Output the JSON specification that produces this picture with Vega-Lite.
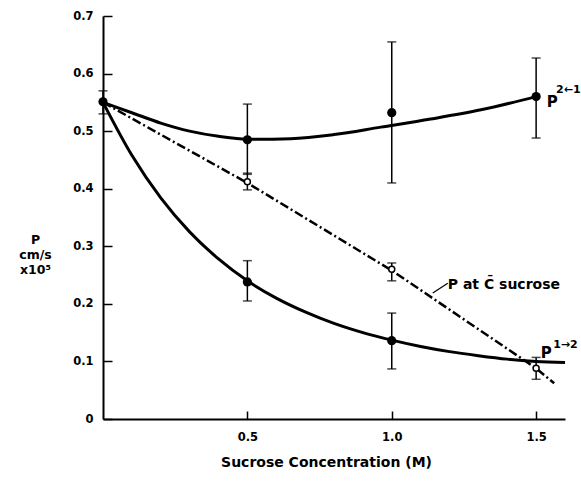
{
  "$schema": "https://vega.github.io/schema/vega-lite/v6.json",
  "width": 462,
  "height": 403,
  "autosize": "none",
  "padding": {"left": 103, "top": 16, "right": 16, "bottom": 50},
  "background": "white",
  "config": {
    "view": {"stroke": null},
    "font": "DejaVu Sans",
    "axis": {
      "grid": false,
      "domainColor": "black",
      "domainWidth": 2,
      "tickColor": "black",
      "tickWidth": 1.5,
      "labelColor": "black",
      "labelFont": "DejaVu Sans",
      "labelFontWeight": "bold",
      "labelFontSize": 11.5,
      "titleColor": "black",
      "titleFont": "DejaVu Sans",
      "titleFontWeight": "bold"
    }
  },
  "datasets": {
    "upper": [
      {"x": 0, "p": 0.55}, {"x": 0.1, "p": 0.532}, {"x": 0.2, "p": 0.514},
      {"x": 0.3, "p": 0.5}, {"x": 0.4, "p": 0.491}, {"x": 0.5, "p": 0.486},
      {"x": 0.65, "p": 0.487}, {"x": 0.8, "p": 0.494}, {"x": 0.962, "p": 0.507},
      {"x": 1.135, "p": 0.521}, {"x": 1.309, "p": 0.537}, {"x": 1.5, "p": 0.56}
    ],
    "lower": [
      {"x": 0, "p": 0.55}, {"x": 0.1, "p": 0.458}, {"x": 0.2, "p": 0.384},
      {"x": 0.3, "p": 0.325}, {"x": 0.4, "p": 0.278}, {"x": 0.5, "p": 0.24},
      {"x": 0.6, "p": 0.21}, {"x": 0.7, "p": 0.186}, {"x": 0.8, "p": 0.166},
      {"x": 0.9, "p": 0.15}, {"x": 1.0, "p": 0.137}, {"x": 1.1, "p": 0.126},
      {"x": 1.2, "p": 0.117}, {"x": 1.3, "p": 0.11}, {"x": 1.4, "p": 0.104},
      {"x": 1.5, "p": 0.1}, {"x": 1.6, "p": 0.098}
    ],
    "dashed": [
      {"x": 0, "p": 0.55}, {"x": 0.5, "p": 0.41}, {"x": 1.0, "p": 0.258},
      {"x": 1.5, "p": 0.088}, {"x": 1.5625, "p": 0.062}
    ],
    "points": [
      {"x": 0, "p": 0.551, "lo": 0.53, "hi": 0.57, "kind": "filled"},
      {"x": 0.5, "p": 0.485, "lo": 0.425, "hi": 0.547, "kind": "filled"},
      {"x": 1.0, "p": 0.532, "lo": 0.41, "hi": 0.655, "kind": "filled"},
      {"x": 1.5, "p": 0.56, "lo": 0.488, "hi": 0.627, "kind": "filled"},
      {"x": 0.5, "p": 0.238, "lo": 0.205, "hi": 0.275, "kind": "filled"},
      {"x": 1.0, "p": 0.136, "lo": 0.087, "hi": 0.184, "kind": "filled"},
      {"x": 0.5, "p": 0.412, "lo": 0.398, "hi": 0.427, "kind": "open"},
      {"x": 1.0, "p": 0.26, "lo": 0.24, "hi": 0.271, "kind": "open"},
      {"x": 1.5, "p": 0.088, "lo": 0.069, "hi": 0.107, "kind": "open"}
    ],
    "labels": [
      {"x": 1.535, "p": 0.115, "text": "P"},
      {"x": 1.556, "p": 0.551, "text": "P"}
    ],
    "sups": [
      {"x": 1.559, "p": 0.129, "text": "1→2"},
      {"x": 1.569, "p": 0.571, "text": "2←1"}
    ],
    "clabel": [
      {"x": 1.194, "p": 0.233, "text": "P at C̄ sucrose"}
    ],
    "leader": [
      {"x": 1.142, "p": 0.219, "x2": 1.194, "p2": 0.236}
    ]
  },
  "layer": [
    {
      "data": {"name": "upper"},
      "mark": {"type": "line", "color": "black", "strokeWidth": 3, "interpolate": "monotone"},
      "encoding": {
        "x": {"field": "x", "type": "quantitative", "scale": {"domain": [0, 1.6]},
          "axis": {"values": [0.5, 1.0, 1.5], "format": ".1f", "tickSize": -8, "labelPadding": 20,
            "title": "Sucrose Concentration (M)", "titleFontSize": 14, "titleY": 43, "titleX": 223, "titleBaseline": "middle"}},
        "y": {"field": "p", "type": "quantitative", "scale": {"domain": [0, 0.7]},
          "axis": {"values": [0, 0.1, 0.2, 0.3, 0.4, 0.5, 0.6, 0.7],
            "labelExpr": "datum.value == 0 ? '0' : format(datum.value, '.1f')",
            "tickSize": -9, "labelPadding": 19,
            "title": ["P", "cm/s", "x10⁵"], "titleAngle": 0, "titleFontSize": 12.5,
            "titleLineHeight": 15,
            "titleAlign": "center", "titleBaseline": "top", "titleX": -68, "titleY": 217}}
      }
    },
    {
      "data": {"name": "lower"},
      "mark": {"type": "line", "color": "black", "strokeWidth": 3, "interpolate": "monotone"},
      "encoding": {
        "x": {"field": "x", "type": "quantitative"},
        "y": {"field": "p", "type": "quantitative"}
      }
    },
    {
      "data": {"name": "dashed"},
      "mark": {"type": "line", "color": "black", "strokeWidth": 2.5, "strokeDash": [9, 3, 2, 3]},
      "encoding": {
        "x": {"field": "x", "type": "quantitative"},
        "y": {"field": "p", "type": "quantitative"}
      }
    },
    {
      "data": {"name": "points"},
      "mark": {"type": "rule", "color": "black", "strokeWidth": 1.5},
      "encoding": {
        "x": {"field": "x", "type": "quantitative"},
        "y": {"field": "lo", "type": "quantitative"},
        "y2": {"field": "hi"}
      }
    },
    {
      "data": {"name": "points"},
      "mark": {"type": "tick", "color": "black", "orient": "horizontal", "size": 9, "thickness": 1.5},
      "encoding": {
        "x": {"field": "x", "type": "quantitative"},
        "y": {"field": "lo", "type": "quantitative"}
      }
    },
    {
      "data": {"name": "points"},
      "mark": {"type": "tick", "color": "black", "orient": "horizontal", "size": 9, "thickness": 1.5},
      "encoding": {
        "x": {"field": "x", "type": "quantitative"},
        "y": {"field": "hi", "type": "quantitative"}
      }
    },
    {
      "data": {"name": "points"},
      "transform": [{"filter": "datum.kind == 'filled'"}],
      "mark": {"type": "point", "shape": "circle", "filled": true, "color": "black", "size": 85, "opacity": 1},
      "encoding": {
        "x": {"field": "x", "type": "quantitative"},
        "y": {"field": "p", "type": "quantitative"}
      }
    },
    {
      "data": {"name": "points"},
      "transform": [{"filter": "datum.kind == 'open'"}],
      "mark": {"type": "point", "shape": "circle", "filled": true, "fill": "white", "stroke": "black", "strokeWidth": 1.5, "size": 36, "opacity": 1},
      "encoding": {
        "x": {"field": "x", "type": "quantitative"},
        "y": {"field": "p", "type": "quantitative"}
      }
    },
    {
      "data": {"name": "leader"},
      "mark": {"type": "rule", "color": "black", "strokeWidth": 1.2},
      "encoding": {
        "x": {"field": "x", "type": "quantitative"},
        "y": {"field": "p", "type": "quantitative"},
        "x2": {"field": "x2"},
        "y2": {"field": "p2"}
      }
    },
    {
      "data": {"name": "labels"},
      "mark": {"type": "text", "fontSize": 15, "fontWeight": "bold", "align": "center", "baseline": "middle", "color": "black"},
      "encoding": {
        "x": {"field": "x", "type": "quantitative"},
        "y": {"field": "p", "type": "quantitative"},
        "text": {"field": "text"}
      }
    },
    {
      "data": {"name": "sups"},
      "mark": {"type": "text", "fontSize": 11, "fontWeight": "bold", "align": "left", "baseline": "middle", "color": "black"},
      "encoding": {
        "x": {"field": "x", "type": "quantitative"},
        "y": {"field": "p", "type": "quantitative"},
        "text": {"field": "text"}
      }
    },
    {
      "data": {"name": "clabel"},
      "mark": {"type": "text", "fontSize": 14, "fontWeight": "bold", "align": "left", "baseline": "middle", "color": "black"},
      "encoding": {
        "x": {"field": "x", "type": "quantitative"},
        "y": {"field": "p", "type": "quantitative"},
        "text": {"field": "text"}
      }
    }
  ]
}
